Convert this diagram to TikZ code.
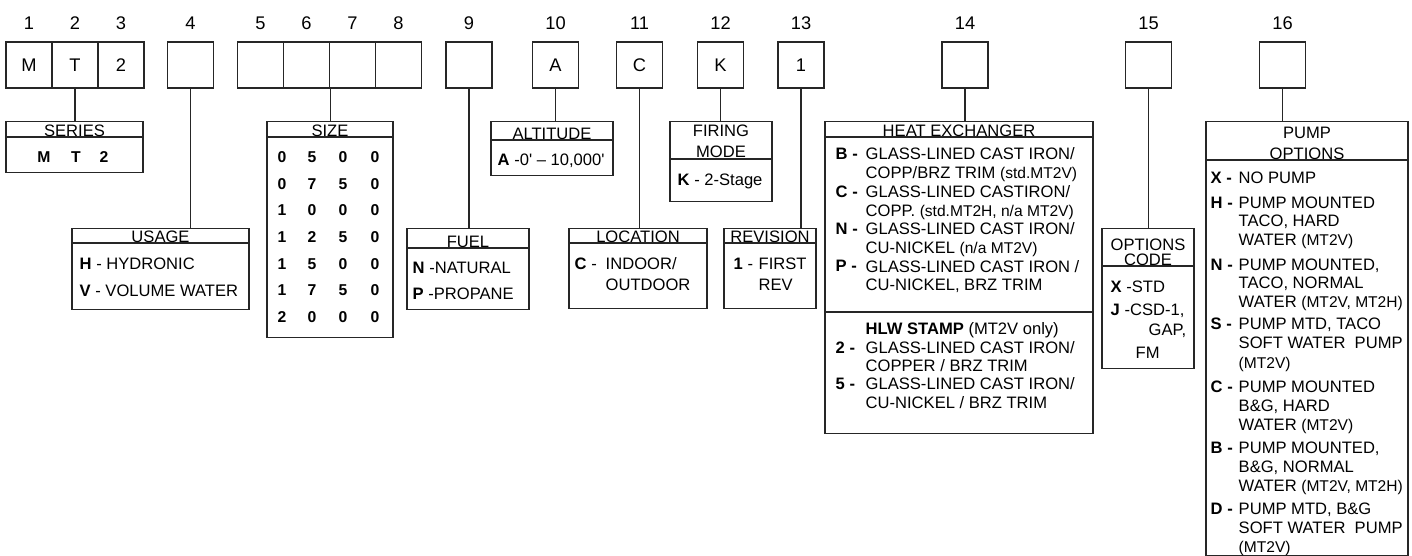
\documentclass[tikz,border=0pt]{standalone}
\usepackage{fontspec}
\setmainfont{Liberation Sans}
\usetikzlibrary{positioning}

\newcommand{\smtxt}[1]{{\fontsize{10.9}{12}\selectfont #1}}

\begin{document}
\begin{tikzpicture}[x=0.7pt,y=-0.7pt,line width=1pt,draw=black!85,
 font=\fontsize{11.6}{14}\selectfont,
 digit/.style={draw,minimum width=32.2pt,minimum height=32.2pt,inner sep=0pt,font=\fontsize{12.8}{15}\selectfont},
 num/.style={inner sep=0pt,font=\fontsize{12.8}{15}\selectfont},
 tab/.style 2 args={draw,anchor=north,inner sep=0pt,minimum width={#1*0.7pt},minimum height={#2*0.7pt}},
 head/.style={anchor=base,inner sep=0pt},
 txt/.style={anchor=base west,inner sep=0pt},
 key/.style={anchor=base west,inner sep=0pt,font=\fontsize{11.6}{14}\selectfont\bfseries},
 dig/.style={anchor=base,inner sep=0pt,font=\fontsize{11}{13}\selectfont\bfseries}]
\useasboundingbox (0,0) rectangle (1412,556);

\foreach \i/\x/\c in {1/29/M,2/75/T,3/121/2,4/190.5/{},5/260.5/{},6/306.5/{},7/352.5/{},8/398.5/{},9/469/{},10/555.5/A,11/639.5/C,12/720.5/K,13/801/1,14/965/{},15/1148.5/{},16/1282.5/{}}{
 \node[digit] (d\i) at (\x,65) {\c};
 \node[num] (n\i) at (\x,23) {\i};
}

\node[tab={137}{51}] (ser) at (74.5,121) {};
\node[tab={177}{81}] (use) at (160.5,228) {};
\node[tab={126}{216}] (siz) at (330,121) {};
\node[tab={122}{81}] (fuel) at (468,228) {};
\node[tab={122}{54}] (alt) at (552,121) {};
\node[tab={138}{80}] (loc) at (638,228) {};
\node[tab={102}{80}] (fir) at (721,121) {};
\node[tab={92}{80}] (rev) at (770,228) {};
\node[tab={268}{312}] (hx) at (959,121) {};
\node[tab={92}{140}] (opt) at (1148,228) {};
\node[tab={202}{434}] (pump) at (1307,121) {};

\draw (ser.north west) ++(0,16) -- ++(137,0);
\draw (use.north west) ++(0,15) -- ++(177,0);
\draw (siz.north west) ++(0,16) -- ++(126,0);
\draw (fuel.north west) ++(0,20) -- ++(122,0);
\draw (alt.north west) ++(0,19) -- ++(122,0);
\draw (loc.north west) ++(0,15) -- ++(138,0);
\draw (fir.north west) ++(0,38) -- ++(102,0);
\draw (rev.north west) ++(0,15) -- ++(92,0);
\draw (hx.north west) ++(0,16) -- ++(268,0);
\draw (hx.north west) ++(0,191) -- ++(268,0);
\draw (opt.north west) ++(0,38) -- ++(92,0);
\draw (pump.north west) ++(0,39) -- ++(202,0);

\draw[line width=0.8pt] (d2.south) -- (d2.south |- ser.north);
\draw[line width=0.8pt] (d4.south) -- (d4.south |- use.north);
\draw[line width=0.8pt] (d6.south east) -- (d6.south east |- siz.north);
\draw[line width=0.8pt] (d9.south) -- (d9.south |- fuel.north);
\draw[line width=0.8pt] (d10.south) -- (d10.south |- alt.north);
\draw[line width=0.8pt] (d11.south) -- (d11.south |- loc.north);
\draw[line width=0.8pt] (d12.south) -- (d12.south |- fir.north);
\draw[line width=0.8pt] (d13.south) -- (d13.south |- rev.north);
\draw[line width=0.8pt] (d14.south) -- (d14.south |- hx.north);
\draw[line width=0.8pt] (d15.south) -- (d15.south |- opt.north);
\draw[line width=0.8pt] (d16.south) -- (d16.south |- pump.north);

\node[head] (serh) at (74.5,137) {SERIES};
\node[dig] (ser1) at (44,163) {M};
\node[dig] (ser2) at (76,163) {T};
\node[dig] (ser3) at (104,163) {2};

\node[head] (useh) at (160.5,243) {USAGE};
\node[txt] (use1) at (79,270) {\textbf{H} - HYDRONIC};
\node[txt] (use2) at (79,297) {\textbf{V} - VOLUME WATER};

\node[head] (sizh) at (330,137) {SIZE};
\foreach \a/\b/\c/\e [count=\k from 0] in {0/5/0/0,0/7/5/0,1/0/0/0,1/2/5/0,1/5/0/0,1/7/5/0,2/0/0/0}{
 \node[dig] (sa\k) at (282,162.5+26.7*\k) {\a};
 \node[dig] (sb\k) at (312,162.5+26.7*\k) {\b};
 \node[dig] (sc\k) at (343,162.5+26.7*\k) {\c};
 \node[dig] (se\k) at (375,162.5+26.7*\k) {\e};
}

\node[head] (fuelh) at (468,248) {FUEL};
\node[txt] (fuel1) at (412,274) {\textbf{N} -NATURAL};
\node[txt] (fuel2) at (412,300) {\textbf{P} -PROPANE};

\node[head] (alth) at (552,140) {ALTITUDE};
\node[txt] (alt1) at (497,166) {\textbf{A} -0\textquotesingle{} -- 10,000\textquotesingle};

\node[head] (loch) at (638,243) {LOCATION};
\node[txt] (loc1) at (574,270) {\textbf{C} -};
\node[txt] (loc2) at (605,270) {INDOOR/};
\node[txt] (loc3) at (605,291) {OUTDOOR};

\node[head] (firh1) at (721,137) {FIRING};
\node[head] (firh2) at (721,158) {MODE};
\node[txt] (fir1) at (677,186) {\textbf{K} - 2-Stage};

\node[head] (revh) at (770,243) {REVISION};
\node[txt] (rev1) at (733,270) {\textbf{1} -};
\node[txt] (rev2) at (758,270) {FIRST};
\node[txt] (rev3) at (758,291) {REV};

\node[head] (hxh) at (959,137) {HEAT EXCHANGER};
\node[key] (hxB) at (835,160) {B -};
\node[key] (hxC) at (835,197.4) {C -};
\node[key] (hxN) at (835,234.8) {N -};
\node[key] (hxP) at (835,272) {P -};
\foreach \t [count=\i from 0] in {GLASS-LINED CAST IRON/, COPP/BRZ TRIM \smtxt{(std.MT2V)}, GLASS-LINED CASTIRON/, COPP. \smtxt{(std.MT2H, n/a MT2V)}, GLASS-LINED CAST IRON/, CU-NICKEL \smtxt{(n/a MT2V)}, GLASS-LINED CAST IRON /, {CU-NICKEL, BRZ TRIM}}
 \node[txt] (hxa\i) at (865,160+18.7*\i) {\t};
\node[key] (hx2) at (835,353) {2 -};
\node[key] (hx5) at (835,390) {5 -};
\foreach \t [count=\i from 0] in {\textbf{HLW STAMP} (MT2V only), GLASS-LINED CAST IRON/, COPPER / BRZ TRIM, GLASS-LINED CAST IRON/, CU-NICKEL / BRZ TRIM}
 \node[txt] (hxb\i) at (865,335+18.25*\i) {\t};

\node[head] (opth1) at (1148,251) {OPTIONS};
\node[head] (opth2) at (1148,266) {CODE};
\node[txt] (opt1) at (1110,293) {\textbf{X} -STD};
\node[txt] (opt2) at (1110,316) {\textbf{J} -CSD-1,};
\node[txt] (opt3) at (1148,336) {GAP,};
\node[txt] (opt4) at (1135,359) {FM};

\node[head] (pumph1) at (1307,139) {PUMP};
\node[head] (pumph2) at (1307,160) {OPTIONS};
\foreach \k/\y in {X/184,H/209,N/271,S/330,C/392,B/453,D/514}
 \node[key] (pk\k) at (1210,\y) {\k\ -};
\foreach \y/\t [count=\i] in {184/NO PUMP, 209/PUMP MOUNTED, 227/{TACO, HARD}, 246/WATER \smtxt{(MT2V)}, 271/{PUMP MOUNTED,}, 289/{TACO, NORMAL}, 308/WATER \smtxt{(MT2V, MT2H)}, 330/{PUMP MTD, TACO}, 349/SOFT WATER\ \ PUMP, 369/\smtxt{(MT2V)}, 392/PUMP MOUNTED, 411/{B\&G, HARD}, 430/WATER \smtxt{(MT2V)}, 453/{PUMP MOUNTED,}, 472/{B\&G, NORMAL}, 491/WATER \smtxt{(MT2V, MT2H)}, 514/{PUMP MTD, B\&G}, 533/SOFT WATER\ \ PUMP, 552/\smtxt{(MT2V)}}
 \node[txt] (pt\i) at (1238,\y) {\t};
\end{tikzpicture}
\end{document}
